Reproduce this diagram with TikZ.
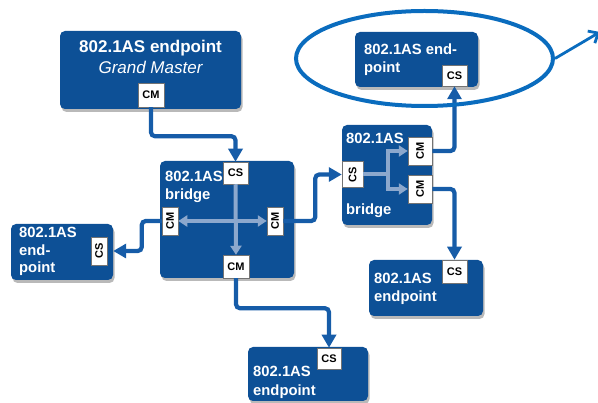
\documentclass[tikz,border=0pt]{standalone}
\usepackage{fontspec}
\setmainfont{Liberation Sans}
\usepackage{graphicx}
\usetikzlibrary{shadows,arrows.meta,shapes.geometric}
\definecolor{boxblue}{RGB}{13,80,150}
\definecolor{linkblue}{RGB}{22,92,168}
\definecolor{lightarr}{RGB}{140,168,205}
\definecolor{ringblue}{RGB}{10,108,190}
\begin{document}
\begin{tikzpicture}[x=1pt,y=-1pt,
 box/.style={fill=boxblue, rounded corners=5pt, inner sep=0pt,
   drop shadow={shadow xshift=1.5pt, shadow yshift=-3pt, fill=black!50, opacity=0.55}},
 port/.style={fill=white, draw=black!55, line width=0.5pt, inner sep=0pt,
   font=\bfseries\fontsize{11}{11}\selectfont},
 lbl/.style={text=white, font=\bfseries\fontsize{14.8}{17}\selectfont, anchor=base west, inner sep=0pt},
 conn/.style={draw=linkblue, line width=4.2pt, rounded corners=4pt,
   -{Triangle[length=13pt,width=14pt]}},
 innerarr/.style={draw=lightarr, line width=4pt, -{Triangle[length=9pt,width=11pt]}},
 innerline/.style={draw=lightarr, line width=4pt},
]
\useasboundingbox (0,0) rectangle (598,403);

% ---- boxes ----
\node[box, minimum width=181pt, minimum height=78pt] (gm) at (150.5,70) {};
\node[box, minimum width=134pt, minimum height=117pt] (br) at (227,219.5) {};
\node[box, minimum width=102pt, minimum height=56pt] (lep) at (62,252) {};
\node[box, minimum width=123pt, minimum height=55pt] (tep) at (416.5,59.5) {};
\node[box, minimum width=90pt, minimum height=100pt] (rb) at (387,175) {};
\node[box, minimum width=114pt, minimum height=56pt] (rep) at (426,288) {};
\node[box, minimum width=120pt, minimum height=54pt] (bep) at (308,374) {};

% ---- labels ----
\node[text=white, font=\bfseries\fontsize{17}{17}\selectfont, anchor=base, inner sep=0pt] (gml1) at (150.5,53) {802.1AS endpoint};
\node[text=white, font=\itshape\fontsize{17}{17}\selectfont, anchor=base, inner sep=0pt] (gml2) at (150.5,74) {Grand Master};
\node[lbl] (brl1) at (165,182) {802.1AS};
\node[lbl] (brl2) at (165,199.5) {bridge};
\node[lbl] (lepl1) at (19,237.5) {802.1AS};
\node[lbl] (lepl2) at (19,255.5) {end-};
\node[lbl] (lepl3) at (19,272.5) {point};
\node[lbl] (tepl1) at (364,54.5) {802.1AS end-};
\node[lbl] (tepl2) at (364,72.5) {point};
\node[lbl] (rbl1) at (346,143.5) {802.1AS};
\node[lbl] (rbl2) at (346,215) {bridge};
\node[lbl] (repl1) at (374,284) {802.1AS};
\node[lbl] (repl2) at (374,302) {endpoint};
\node[lbl] (bepl1) at (253,377) {802.1AS};
\node[lbl] (bepl2) at (253,396) {endpoint};

% ---- ports ----
\node[port, minimum width=26pt, minimum height=24pt] (gmcm) at (151,95) {CM};
\node[port, minimum width=25pt, minimum height=22pt] (bcs) at (235.5,173) {CS};
\node[port, minimum width=16pt, minimum height=28pt] (bcml) at (170,221) {\rotatebox{90}{CM}};
\node[port, minimum width=16pt, minimum height=28pt] (bcmr) at (275,221) {\rotatebox{90}{CM}};
\node[port, minimum width=26pt, minimum height=23pt] (bcmb) at (236,266.5) {CM};
\node[port, minimum width=16pt, minimum height=28pt] (lcs) at (99,251) {\rotatebox{90}{CS}};
\node[port, minimum width=25pt, minimum height=21pt] (tcs) at (454.5,75.5) {CS};
\node[port, minimum width=21pt, minimum height=26pt] (rbcs) at (352.5,174.5) {\rotatebox{90}{CS}};
\node[port, minimum width=24pt, minimum height=28pt] (rcmu) at (420,151) {\rotatebox{90}{CM}};
\node[port, minimum width=24pt, minimum height=28pt] (rcml) at (420,189) {\rotatebox{90}{CM}};
\node[port, minimum width=25pt, minimum height=23pt] (recs) at (454.5,271.5) {CS};
\node[port, minimum width=24pt, minimum height=21pt] (becs) at (329,358.5) {CS};

% ---- internal bridge paths ----
\draw[innerline, {Triangle[length=9pt,width=11pt]}-{Triangle[length=9pt,width=11pt]}] (bcml.east) -- (bcmr.west);
\draw[innerarr] (bcs.south) -- (bcmb.north);
\coordinate (rbj) at (388,174.5);
\draw[innerline] (rbcs.east) -- (rbj);
\draw[innerarr] (rbj) |- (rcmu.west);
\draw[innerarr] (rbj) |- (rcml.west);

% ---- connectors ----
\draw[conn] (gmcm.south) -- ++(0,29) -| (bcs.north);
\draw[conn] (bcml.west) -- ++(-20,0) |- (lcs -| lep.east);
\draw[conn] (bcmr.east) -- ++(32,0) |- (rbcs.west);
\draw[conn] (rcmu.east) -| (tcs.south);
\draw[conn] (rcml.east) -| (recs.north);
\draw[conn] (bcmb.south) -- ++(0,30) -| (becs.north);

% ---- highlight ring ----
\node[draw=ringblue, line width=4pt, ellipse, minimum width=257pt, minimum height=95pt, inner sep=0pt] (ring) at (424.5,58.5) {};
\coordinate (ringtip) at (600,32);
\draw[draw=ringblue, line width=2.8pt, -{Straight Barb[length=8pt,width=14pt]}] (ring.east) -- (ringtip);
\end{tikzpicture}
\end{document}
